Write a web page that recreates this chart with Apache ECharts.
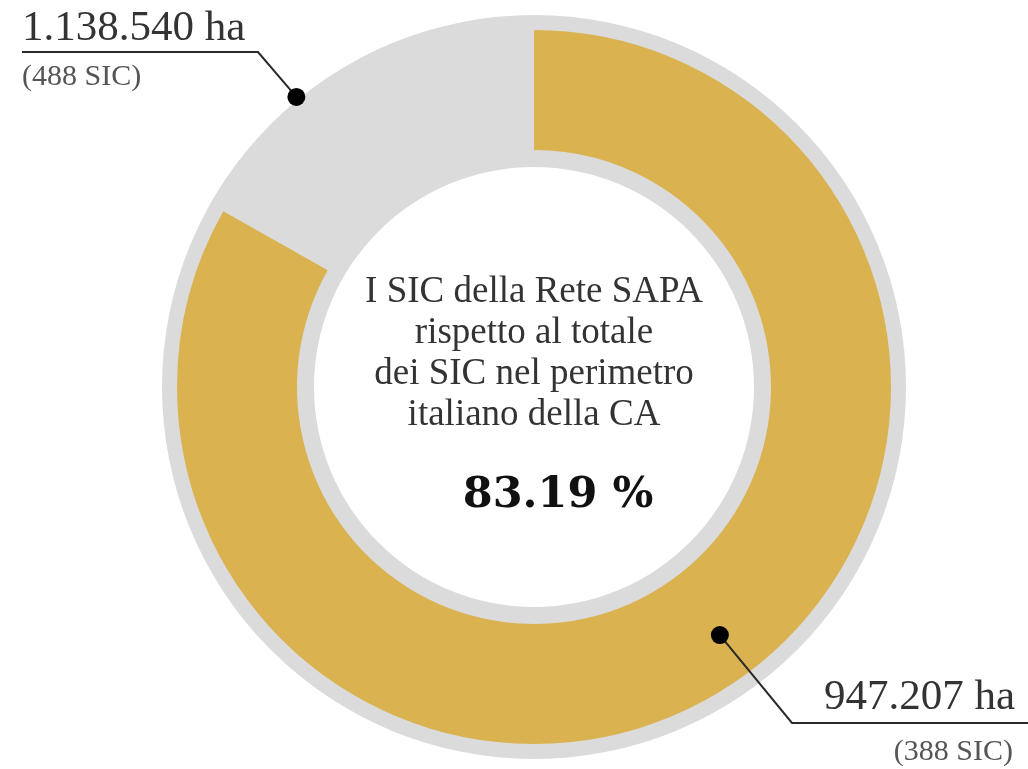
<!DOCTYPE html>
<html><head><meta charset="utf-8">
<script src="https://cdn.jsdelivr.net/npm/echarts@6/dist/echarts.min.js"></script>
<style>html,body{margin:0;padding:0;background:#fff}#chart{width:1028px;height:769px}</style>
</head><body><div id="chart"></div>
<script>
// ---- data ----
const categories = ['SIC della Rete SAPA', 'Altri SIC nel perimetro italiano della CA'];
const totalHa = 1138540;
const sapaHa = 947207;
const totalSic = 488;
const sapaSic = 388;
const sharePct = 83.19;
const values = [sapaHa, totalHa - sapaHa];
const haLabels = ['947.207 ha', '1.138.540 ha'];
const sicLabels = ['(' + sapaSic + ' SIC)', '(' + totalSic + ' SIC)'];
const centerLines = ['I SIC della Rete SAPA', 'rispetto al totale', 'dei SIC nel perimetro', 'italiano della CA'];

// ---- style / layout ----
const CX = 534, CY = 387;
const R_BG = [220, 372];
const R_FG = [237, 357];
const GOLD = '#dab24f';
const GREY = '#dbdbdc';
const SERIF = '"Liberation Serif", "DejaVu Serif", serif';

const chart = echarts.init(document.getElementById('chart'), null, {renderer: 'canvas'});

// anchor angles derived from the data (ECharts pie: startAngle 90, clockwise)
const goldSpan = values[0] / (values[0] + values[1]) * 360;
const gapSpan = 360 - goldSpan;
const toRad = d => d * Math.PI / 180;
const aTop = 90 + gapSpan * 0.65;
const dotTop = [CX + 375 * Math.cos(toRad(aTop)), CY - 375 * Math.sin(toRad(aTop))];
const aBot = 90 - goldSpan * 0.478;
const dotBot = [CX + 310 * Math.cos(toRad(aBot)), CY - 310 * Math.sin(toRad(aBot))];

const option = {
  backgroundColor: '#ffffff',
  animation: false,
  series: [
    {
      type: 'pie', silent: true, center: [CX, CY], radius: R_BG,
      label: {show: false}, labelLine: {show: false},
      itemStyle: {color: GREY},
      data: [{name: 'Totale', value: totalHa}]
    },
    {
      type: 'pie', silent: true, center: [CX, CY], radius: R_FG,
      startAngle: 90, clockwise: true,
      label: {show: false}, labelLine: {show: false},
      data: [
        {name: categories[0], value: values[0], itemStyle: {color: GOLD}},
        {name: categories[1], value: values[1], itemStyle: {color: 'rgba(0,0,0,0)'}}
      ]
    }
  ],
  graphic: [
    {type: 'polyline', z: 100, shape: {points: [[22, 52], [258, 52], dotTop]},
     style: {stroke: '#2a2a2a', lineWidth: 2, fill: null}},
    {type: 'circle', z: 101, shape: {cx: dotTop[0], cy: dotTop[1], r: 9}, style: {fill: '#000'}},
    {type: 'text', z: 100, x: 22, y: 29,
     style: {text: haLabels[1], font: '43px ' + SERIF, fill: '#333', textAlign: 'left', textVerticalAlign: 'middle'}},
    {type: 'text', z: 100, x: 22, y: 77,
     style: {text: sicLabels[1], font: '30px ' + SERIF, fill: '#555', textAlign: 'left', textVerticalAlign: 'middle'}},

    {type: 'polyline', z: 100, shape: {points: [dotBot, [792, 723], [1028, 723]]},
     style: {stroke: '#2a2a2a', lineWidth: 2, fill: null}},
    {type: 'circle', z: 101, shape: {cx: dotBot[0], cy: dotBot[1], r: 9}, style: {fill: '#000'}},
    {type: 'text', z: 100, x: 1015, y: 698,
     style: {text: haLabels[0], font: '43px ' + SERIF, fill: '#333', textAlign: 'right', textVerticalAlign: 'middle'}},
    {type: 'text', z: 100, x: 1013, y: 752,
     style: {text: sicLabels[0], font: '30px ' + SERIF, fill: '#555', textAlign: 'right', textVerticalAlign: 'middle'}},

    {type: 'text', z: 100, x: CX, y: 354,
     style: {text: centerLines.join('\n'), font: '37px ' + SERIF, lineHeight: 41, fill: '#333', textAlign: 'center', textVerticalAlign: 'middle'}},
    {type: 'text', z: 100, x: 558, y: 496,
     style: {text: sharePct.toFixed(2) + ' %', font: 'bold 43px "DejaVu Serif", serif', fill: '#111', textAlign: 'center', textVerticalAlign: 'middle'}}
  ]
};
chart.setOption(option);
</script>
</body></html>
